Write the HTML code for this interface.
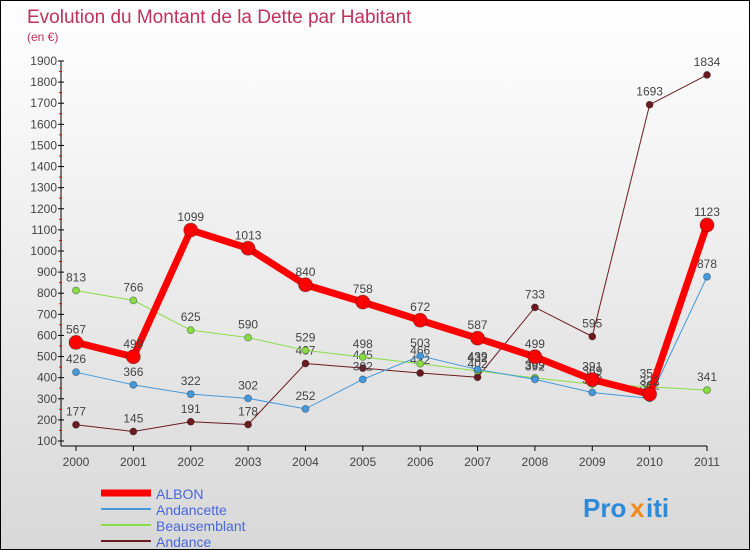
<!DOCTYPE html>
<html><head><meta charset="utf-8"><style>
body{margin:0}
#c{width:750px;height:550px;position:relative;overflow:hidden;box-sizing:border-box;border:1px solid #000;background:linear-gradient(#fff,#d8d8d8);font-family:"Liberation Sans",sans-serif}
</style></head><body>
<div id="c">
<svg id="s" width="750" height="550"></svg>
</div>
<script>
const years=[2000,2001,2002,2003,2004,2005,2006,2007,2008,2009,2010,2011];
const albon=[567,499,1099,1013,840,758,672,587,499,391,322,1123];
const andancette=[426,366,322,302,252,392,503,439,392,330,302,878];
const beausemblant=[813,766,625,590,529,498,466,432,399,369,357,341];
const andance=[177,145,191,178,467,445,422,402,733,595,1693,1834];
const yTicks=[100,200,300,400,500,600,700,800,900,1000,1100,1200,1300,1400,1500,1600,1700,1800,1900];
const series=[
 {name:'Andance',v:andance,c:'#6b1a1f',w:1,r:3.5,key:'andance'},
 {name:'Beausemblant',v:beausemblant,c:'#88dd44',w:1,r:3.5,key:'beausemblant'},
 {name:'Andancette',v:andancette,c:'#4499dd',w:1,r:3.5,key:'andancette'},
 {name:'ALBON',v:albon,c:'#ff0000',w:7,r:7,key:'albon'}];
const s=document.getElementById('s'),NS='http://www.w3.org/2000/svg';
const X=i=>75+i*(706-75)/11, Y=v=>440-(v-100)*380/1800;
function el(t,a,txt){const e=document.createElementNS(NS,t);for(const k in a)e.setAttribute(k,a[k]);if(txt!=null)e.textContent=txt;s.appendChild(e);return e;}
let e=el('text',{x:26,y:22,fill:'#c0305a','font-size':19},'Evolution du Montant de la Dette par Habitant');

e=el('text',{x:26,y:40,fill:'#c0305a','font-size':12},'(en €)');

e=el('line',{x1:60,y1:60,x2:60,y2:445,stroke:'#000'});

e=el('line',{x1:60,y1:445,x2:706,y2:445,stroke:'#000'});

yTicks.forEach((t,k)=>{const y=Y(t);
 el('line',{x1:57,y1:y,x2:63,y2:y,stroke:'#000'});
 if(k>0)el('line',{x1:58,y1:y+10.5,x2:61,y2:y+10.5,stroke:'#e00'});
 e=el('text',{x:56,y:y+4,'text-anchor':'end','font-size':12,fill:'#444'},t);
 });
years.forEach((yr,i)=>{
 el('line',{x1:X(i),y1:445,x2:X(i),y2:450,stroke:'#000'});
 e=el('text',{x:X(i),y:465,'text-anchor':'middle','font-size':12,fill:'#444'},yr);
 });
series.forEach(sr=>{
 e=el('polyline',{points:sr.v.map((v,i)=>X(i)+','+Y(v)).join(' '),fill:'none',stroke:sr.c,'stroke-width':sr.w});
 
 sr.v.forEach((v,i)=>{
  e=el('circle',{cx:X(i),cy:Y(v),r:sr.r,fill:sr.c,stroke:'rgba(0,0,0,0.3)'});
  
  e=el('text',{x:X(i),y:Y(v)-9,'text-anchor':'middle','font-size':12,fill:'#444'},v);
  });
});
const leg=[series[3],series[2],series[1],series[0]];
leg.forEach((sr,k)=>{const y=492+k*16;
 e=el('line',{x1:100,y1:y,x2:150,y2:y,stroke:sr.c,'stroke-width':sr.key==='albon'?7:2});
 
 e=el('text',{x:155,y:y+6,'font-size':14,fill:'#4a66dd'},sr.name);
 });
e=el('text',{x:582,y:516,'font-size':26,'font-weight':'bold',fill:'#2e8ad8'},'Pro');

el('text',{x:629,y:516,'font-size':26,'font-weight':'bold',fill:'#f08a1c'},'x');
el('text',{x:645,y:516,'font-size':26,'font-weight':'bold',fill:'#2e8ad8'},'iti');
</script>
</body></html>
